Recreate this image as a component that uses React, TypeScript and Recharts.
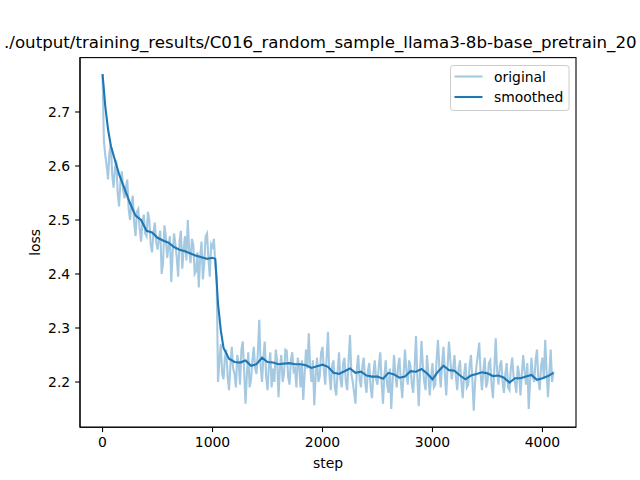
import { LineChart, Line, XAxis, YAxis } from "recharts";

const FONT = "DejaVu Sans, sans-serif";
const BLUE = "#1f77b4";

const TITLE =
  "./output/training_results/C016_random_sample_llama3-8b-base_pretrain_20";

const X_TICKS = [0, 1000, 2000, 3000, 4000];
const Y_TICKS = [2.2, 2.3, 2.4, 2.5, 2.6, 2.7];

// raw loss, one reading every 12.5 steps (16 per row = 200 steps)
const ORIGINAL_STEP = 12.5;
const ORIGINAL_LOSS = [
  2.770, 2.645, 2.620, 2.600, 2.575, 2.625, 2.640, 2.585, 2.560, 2.595, 2.610, 2.550, 2.525, 2.570, 2.590, 2.555, // 0
  2.540, 2.560, 2.575, 2.520, 2.500, 2.530, 2.545, 2.495, 2.470, 2.515, 2.520, 2.485, 2.460, 2.495, 2.510, 2.475, // 200
  2.470, 2.515, 2.500, 2.455, 2.440, 2.475, 2.495, 2.460, 2.445, 2.465, 2.480, 2.400, 2.420, 2.490, 2.470, 2.430, // 400
  2.450, 2.470, 2.385, 2.440, 2.475, 2.455, 2.430, 2.395, 2.460, 2.480, 2.410, 2.445, 2.470, 2.425, 2.500, 2.445, // 600
  2.420, 2.465, 2.455, 2.400, 2.405, 2.440, 2.375, 2.430, 2.460, 2.390, 2.420, 2.470, 2.475, 2.430, 2.395, 2.455, // 800
  2.450, 2.465, 2.420, 2.395, 2.200, 2.240, 2.270, 2.215, 2.205, 2.245, 2.260, 2.210, 2.185, 2.230, 2.265, 2.225, // 1000
  2.215, 2.190, 2.250, 2.235, 2.195, 2.260, 2.275, 2.220, 2.160, 2.215, 2.255, 2.190, 2.205, 2.240, 2.265, 2.225, // 1200
  2.215, 2.255, 2.315, 2.230, 2.200, 2.245, 2.275, 2.210, 2.185, 2.230, 2.255, 2.190, 2.225, 2.200, 2.260, 2.240, // 1400
  2.172, 2.225, 2.250, 2.200, 2.215, 2.260, 2.258, 2.210, 2.195, 2.240, 2.255, 2.220, 2.225, 2.190, 2.245, 2.230, // 1600
  2.190, 2.240, 2.167, 2.215, 2.260, 2.225, 2.290, 2.230, 2.200, 2.240, 2.157, 2.210, 2.245, 2.200, 2.210, 2.255, // 1800
  2.265, 2.220, 2.195, 2.245, 2.293, 2.215, 2.185, 2.230, 2.240, 2.190, 2.175, 2.220, 2.255, 2.205, 2.190, 2.235, // 2000
  2.245, 2.200, 2.185, 2.240, 2.287, 2.215, 2.200, 2.180, 2.160, 2.225, 2.250, 2.205, 2.190, 2.230, 2.245, 2.200, // 2200
  2.180, 2.220, 2.235, 2.190, 2.170, 2.215, 2.240, 2.205, 2.195, 2.230, 2.255, 2.200, 2.160, 2.210, 2.240, 2.195, // 2400
  2.180, 2.225, 2.150, 2.200, 2.250, 2.215, 2.190, 2.230, 2.245, 2.200, 2.170, 2.215, 2.260, 2.220, 2.195, 2.240, // 2600
  2.230, 2.195, 2.180, 2.225, 2.285, 2.210, 2.155, 2.220, 2.276, 2.230, 2.200, 2.185, 2.250, 2.215, 2.175, 2.210, // 2800
  2.235, 2.190, 2.195, 2.240, 2.278, 2.225, 2.190, 2.235, 2.265, 2.215, 2.175, 2.230, 2.275, 2.240, 2.205, 2.225, // 3000
  2.250, 2.210, 2.185, 2.225, 2.240, 2.200, 2.170, 2.215, 2.235, 2.190, 2.195, 2.230, 2.250, 2.205, 2.147, 2.200, // 3200
  2.230, 2.250, 2.273, 2.215, 2.185, 2.220, 2.245, 2.190, 2.200, 2.235, 2.240, 2.195, 2.170, 2.225, 2.281, 2.220, // 3400
  2.195, 2.230, 2.240, 2.200, 2.180, 2.215, 2.235, 2.190, 2.185, 2.225, 2.245, 2.210, 2.200, 2.180, 2.230, 2.215, // 3600
  2.175, 2.215, 2.250, 2.220, 2.195, 2.235, 2.150, 2.200, 2.245, 2.210, 2.200, 2.240, 2.260, 2.205, 2.185, 2.230, // 3800
  2.245, 2.205, 2.278, 2.220, 2.172, 2.215, 2.260, 2.200, 2.220, // 4000
];

const SMOOTHED_STEPS = [
  0, 25, 50, 75, 100, 150, 200, 250, 300, 350, 400, 450, 500, 550, 600, 650,
  700, 750, 800, 850, 900, 950, 1000, 1025, 1050, 1075,
  1100, 1150, 1200, 1250, 1300, 1350, 1400, 1450,
  1500, 1550, 1600, 1650, 1700, 1750, 1800, 1850,
  1900, 1950, 2000, 2050, 2100, 2150, 2200, 2250,
  2300, 2350, 2400, 2450, 2500, 2550, 2600, 2650,
  2700, 2750, 2800, 2850, 2900, 2950, 3000, 3050,
  3100, 3150, 3200, 3250, 3300, 3350, 3400, 3450,
  3500, 3550, 3600, 3650, 3700, 3750, 3800, 3850,
  3900, 3950, 4000, 4050, 4100,
];
const SMOOTHED_LOSS = [
  2.770, 2.710, 2.668, 2.638, 2.620, 2.585, 2.558, 2.531, 2.508, 2.500, 2.480,
  2.477, 2.467, 2.462, 2.458, 2.450, 2.445, 2.442, 2.438, 2.434, 2.431, 2.428,
  2.430, 2.428, 2.345, 2.296,
  2.263, 2.243, 2.237, 2.236, 2.240, 2.230, 2.233, 2.245,
  2.237, 2.236, 2.233, 2.234, 2.235, 2.233, 2.233, 2.231,
  2.226, 2.229, 2.232, 2.228, 2.217, 2.215, 2.220, 2.225,
  2.217, 2.219, 2.212, 2.210, 2.210, 2.206, 2.217, 2.214,
  2.208, 2.210, 2.220, 2.219, 2.224, 2.216, 2.205, 2.219,
  2.230, 2.222, 2.221, 2.212, 2.205, 2.212, 2.215, 2.218,
  2.216, 2.211, 2.212, 2.208, 2.199, 2.207, 2.207, 2.210,
  2.213, 2.204, 2.207, 2.211, 2.217,
];

const originalData = ORIGINAL_LOSS.map((loss, i) => ({
  step: i * ORIGINAL_STEP,
  loss,
}));
const smoothedData = SMOOTHED_STEPS.map((step, i) => ({
  step,
  loss: SMOOTHED_LOSS[i],
}));

const tickStyle = { fontSize: 13.9, fill: "#000", fontFamily: FONT };
const axisStroke = { stroke: "#000", strokeWidth: 1.1 };

export default function App() {
  return (
    <div
      style={{
        position: "absolute",
        left: 0,
        top: 0,
        width: 640,
        height: 480,
        background: "#fff",
      }}
    >
      <LineChart
        width={640}
        height={480}
        margin={{ top: 57.6, right: 64, bottom: 11.8, left: 20 }}
      >
        <XAxis
          type="number"
          dataKey="step"
          domain={[-205, 4305]}
          ticks={X_TICKS}
          allowDataOverflow
          height={41}
          tickSize={4.9}
          tickMargin={4.9}
          tick={tickStyle}
          tickLine={axisStroke}
          axisLine={axisStroke}
        />
        <YAxis
          type="number"
          domain={[2.1163, 2.8007]}
          ticks={Y_TICKS}
          allowDataOverflow
          width={60}
          tickSize={4.9}
          tickMargin={4.9}
          tick={tickStyle}
          tickLine={axisStroke}
          axisLine={axisStroke}
          tickFormatter={(v: number) => v.toFixed(1)}
        />
        <Line
          data={originalData}
          dataKey="loss"
          type="linear"
          stroke={BLUE}
          strokeOpacity={0.4}
          strokeWidth={2.1}
          dot={false}
          activeDot={false}
          isAnimationActive={false}
        />
        <Line
          data={smoothedData}
          dataKey="loss"
          type="linear"
          stroke={BLUE}
          strokeWidth={2.1}
          dot={false}
          activeDot={false}
          isAnimationActive={false}
        />
      </LineChart>

      {/* title, axis labels, frame and legend drawn over the chart */}
      <svg
        width={640}
        height={480}
        style={{ position: "absolute", left: 0, top: 0, pointerEvents: "none" }}
        fontFamily={FONT}
      >
        <rect
          x={80}
          y={57.6}
          width={496}
          height={369.6}
          fill="none"
          stroke="#000"
          strokeWidth={1.1}
        />
        <text x={4} y={48} fontSize={16.67} fill="#000">
          {TITLE}
        </text>
        <text x={328} y={468} fontSize={13.9} textAnchor="middle" fill="#000">
          step
        </text>
        <text
          x={40}
          y={242.4}
          fontSize={13.9}
          textAnchor="middle"
          fill="#000"
          transform="rotate(-90 40 242.4)"
        >
          loss
        </text>

        <rect
          x={450.5}
          y={65.5}
          width={118.5}
          height={45}
          rx={2.8}
          fill="#fff"
          fillOpacity={0.8}
          stroke="#cccccc"
          strokeWidth={1}
        />
        <line
          x1={454.5}
          x2={482.5}
          y1={76.5}
          y2={76.5}
          stroke={BLUE}
          strokeOpacity={0.4}
          strokeWidth={2.1}
        />
        <text x={494} y={81.5} fontSize={13.9} fill="#000">
          original
        </text>
        <line
          x1={454.5}
          x2={482.5}
          y1={97}
          y2={97}
          stroke={BLUE}
          strokeWidth={2.1}
        />
        <text x={494} y={102} fontSize={13.9} fill="#000">
          smoothed
        </text>
      </svg>
    </div>
  );
}
